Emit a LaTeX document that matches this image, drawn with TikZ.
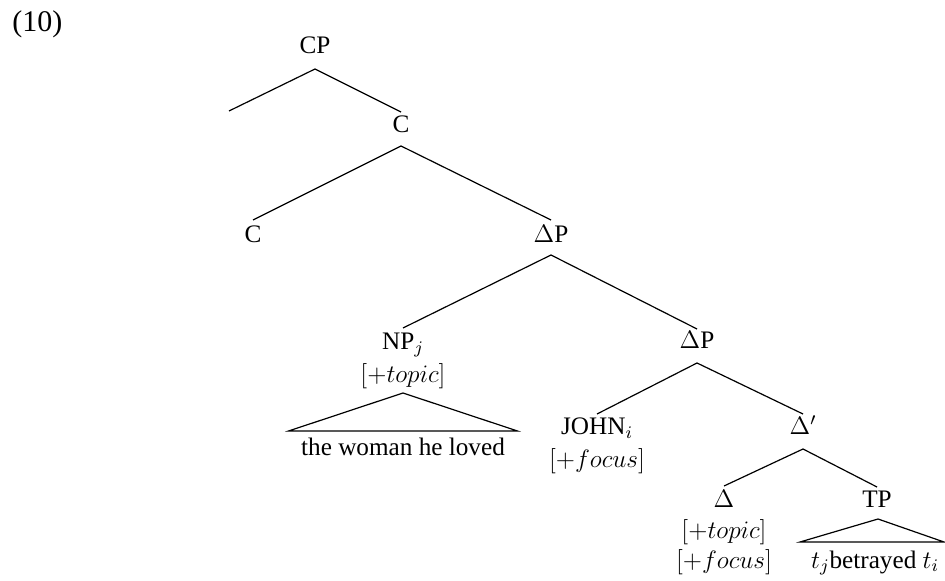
\RequirePackage{fix-cm}
\documentclass[tikz,border=0pt]{standalone}
\usepackage[no-math]{fontspec}
\setmainfont{Liberation Serif}
\begin{document}
\begin{tikzpicture}[x=0.5pt,y=-0.5pt,
  lab/.style={anchor=base,inner sep=0pt,font=\fontsize{12.6}{15}\selectfont},
  branch/.style={draw=black,line width=0.6pt}]
\useasboundingbox (0,0) rectangle (945,581);
\fill[white] (0,0) rectangle (945,581);
% example number
\node[anchor=base west,inner sep=0pt,font=\fontsize{15}{18}\selectfont] (ex) at (12,32) {(10)};
% labels
\node[lab] (cp) at (315,54) {CP};
\node[lab] (c1) at (401,133) {C};
\node[lab] (c2) at (253,243) {C};
\node[lab] (dp1) at (551,243) {$\Delta$P};
\node[lab] (np) at (403,350) {NP$_j$};
\node[lab] (nptop) at (403,383) {$[+topic]$};
\node[lab] (npleaf) at (403,455) {the woman he loved};
\node[lab] (dp2) at (697,349) {$\Delta$P};
\node[lab] (john) at (597,435) {JOHN$_i$};
\node[lab] (johnf) at (597,467) {$[+focus]$};
\node[lab] (dbar) at (803,435) {$\Delta'$};
\node[lab] (delta) at (724,507) {$\Delta$};
\node[lab] (dtop) at (724,538) {$[+topic]$};
\node[lab] (dfoc) at (724,568) {$[+focus]$};
\node[lab] (tp) at (877,507) {TP};
\node[lab] (tpleaf) at (875,568) {$t_j$betrayed $t_i$};
\coordinate (spec) at (229,111);
% branches
\draw[branch] (spec) -- ([yshift=-7.5pt]cp.base) -- ([yshift=10.5pt]c1.base);
\draw[branch] ([yshift=11.5pt]c2.base) -- ([yshift=-6.5pt]c1.base) -- ([yshift=11.5pt]dp1.base);
\draw[branch] ([yshift=11pt]np.base) -- ([yshift=-6pt]dp1.base) -- ([yshift=10pt]dp2.base);
\draw[branch] ([yshift=10.5pt]john.base) -- ([yshift=-7pt]dp2.base) -- ([yshift=10.5pt]dbar.base);
\draw[branch] ([yshift=10.5pt]delta.base) -- ([yshift=-7pt]dbar.base) -- ([yshift=10pt]tp.base);
% triangles
\draw[branch] ([yshift=-5pt]nptop.base) -- ([xshift=-57.25pt,yshift=12pt]npleaf.base) -- ([xshift=57.25pt,yshift=12pt]npleaf.base) -- cycle;
\draw[branch] ([xshift=0.5pt,yshift=-6pt]tp.base) -- ([xshift=-37.5pt,yshift=13pt]tpleaf.base) -- ([xshift=34.5pt,yshift=13pt]tpleaf.base) -- cycle;
\end{tikzpicture}
\end{document}
